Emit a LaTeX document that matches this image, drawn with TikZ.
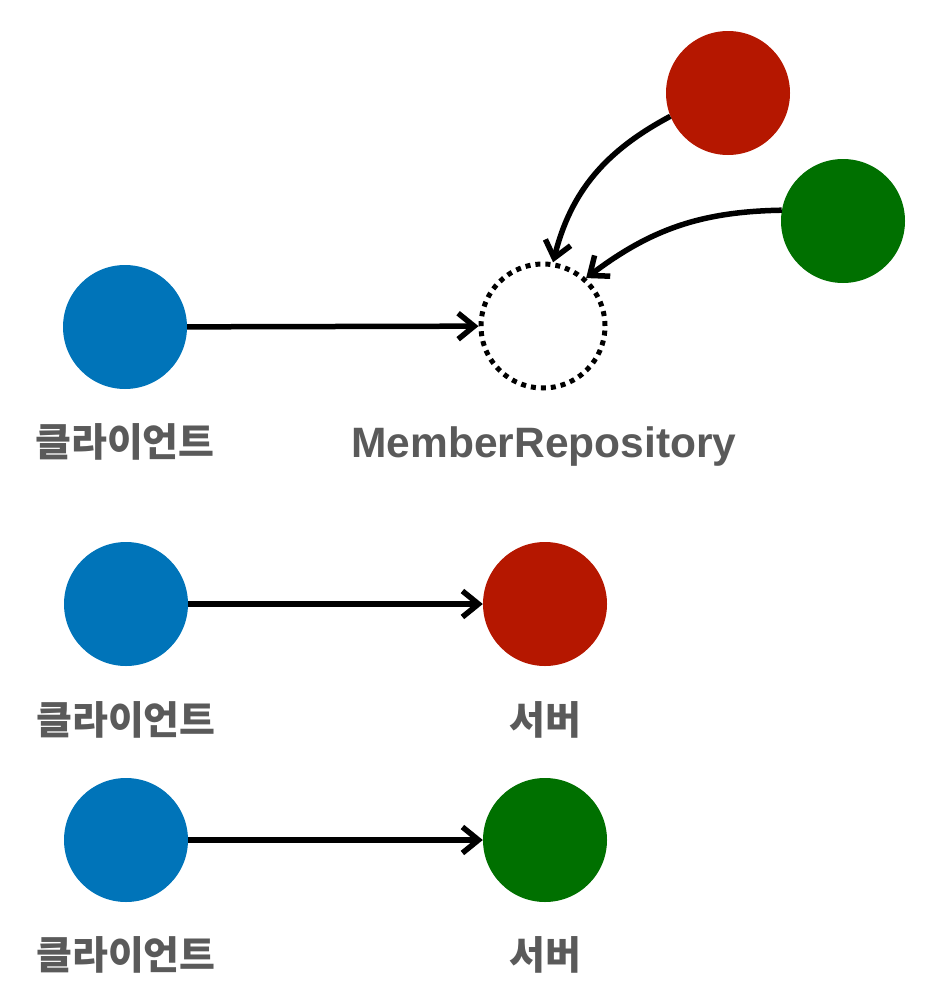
\documentclass[tikz,border=0pt]{standalone}
\usepackage{fontspec}
\setmainfont{Liberation Sans}
\newfontfamily\kr{Noto Sans CJK KR}
\usetikzlibrary{arrows.meta}
\definecolor{cblue}{RGB}{0,116,185}
\definecolor{cred}{RGB}{181,23,0}
\definecolor{cgreen}{RGB}{0,112,0}
\definecolor{ctext}{RGB}{90,90,90}
\begin{document}
\begin{tikzpicture}[x=1pt,y=-1pt,
  dotc/.style={circle,minimum size=124pt,inner sep=0pt},
  filled/.style={dotc,fill=#1},
  dotted circ/.style={dotc,draw=black,line width=5pt,dash pattern=on 5pt off 5pt},
  conn/.style={line width=5.5pt,-{Straight Barb[length=16pt,width=26pt]}},
  lbl/.style={text=ctext,font=\kr\bfseries\fontsize{39}{44}\selectfont,inner sep=0pt},
  lbleng/.style={text=ctext,font=\bfseries\fontsize{42.5}{48}\selectfont,inner sep=0pt}]
\useasboundingbox (0,0) rectangle (937,993);
% top
\node[filled=cblue] (c1) at (125,327) {};
\node[dotted circ] (repo) at (543,326) {};
\node[filled=cred] (r1) at (728,93) {};
\node[filled=cgreen] (g1) at (843,221) {};
\node[lbl] (l1) at (125,442) {클라이언트};
\node[lbleng] (lrepo) at (544,447) {MemberRepository};
\draw[conn] (c1) -- (repo);
\draw[conn] (r1.202) to[out=208,in=76] (repo.81);
\draw[conn] (g1.170) to[out=181,in=37] (repo.48);
% middle
\node[filled=cblue] (c2) at (126,604) {};
\node[filled=cred] (r2) at (545,604) {};
\node[lbl] (l2) at (126,720) {클라이언트};
\node[lbl] (l3) at (545,720) {서버};
\draw[conn] (c2) -- (r2);
% bottom
\node[filled=cblue] (c3) at (126,840) {};
\node[filled=cgreen] (g2) at (545,840) {};
\node[lbl] (l4) at (126,955) {클라이언트};
\node[lbl] (l5) at (545,955) {서버};
\draw[conn] (c3) -- (g2);
\end{tikzpicture}
\end{document}
